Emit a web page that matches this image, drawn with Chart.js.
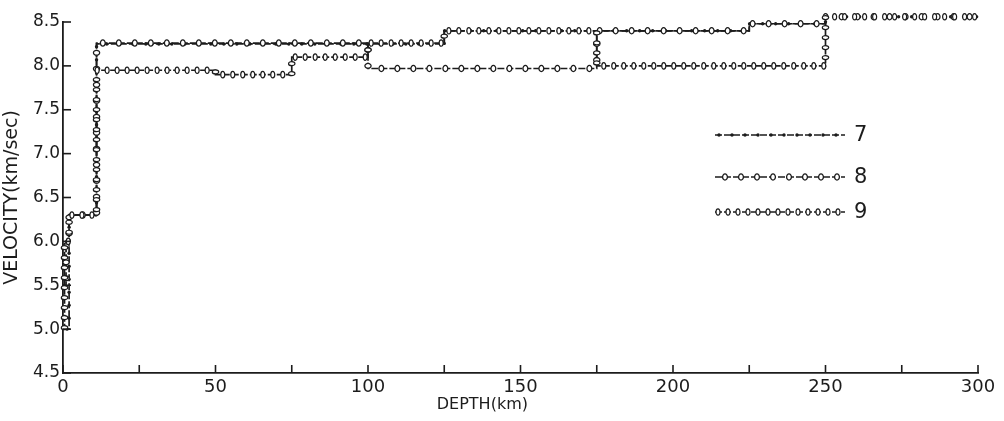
<!DOCTYPE html>
<html>
<head>
<meta charset="utf-8">
<script src="https://cdn.jsdelivr.net/npm/chart.js@4.4.0/dist/chart.umd.min.js"></script>
<style>
    html, body { margin: 0; padding: 0; background: #fff; }
    #wrap { width: 1004px; height: 421px; }
</style>
</head>
<body>
<div id="wrap"><canvas id="chart"></canvas></div>
<script>
// velocity models (depth km, velocity km/sec)
const seriesNames = ["7", "8", "9"];

const depth7 = [0, 2, 2, 11, 11, 125, 125, 225, 225, 250, 250, 300];
const vel7 = [5.0, 5.0, 6.3, 6.3, 8.25, 8.25, 8.4, 8.4, 8.48, 8.48, 8.56, 8.56];

const depth8 = [0, 1, 1, 2, 2, 11, 11, 100, 100, 175, 175, 225, 225, 250, 250, 300];
const vel8 = [5.5, 5.5, 6.0, 6.0, 6.3, 6.3, 8.26, 8.26, 7.97, 7.97, 8.4, 8.4, 8.48, 8.48, 8.56, 8.56];

const depth9 = [0, 0.5, 0.5, 2, 2, 11, 11, 50, 50, 75, 75, 100, 100, 125, 125, 175, 175, 250, 250, 300];
const vel9 = [5.0, 5.0, 6.0, 6.0, 6.3, 6.3, 7.95, 7.95, 7.9, 7.9, 8.1, 8.1, 8.26, 8.26, 8.4, 8.4, 8.0, 8.0, 8.56, 8.56];

const xTicks = [0, 25, 50, 75, 100, 125, 150, 175, 200, 225, 250, 275, 300];
const yTicks = [4.5, 5.0, 5.5, 6.0, 6.5, 7.0, 7.5, 8.0, 8.5];

const ink = "#1c1c1c";
const fontFamily = "'DejaVu Sans', 'Liberation Sans', sans-serif";

function toPoints(xs, ys) {
    return xs.map((x, i) => ({ x: x, y: ys[i] }));
}

// bead shapes that sit along each line
function dotBead(ctx, x, y) {
    ctx.beginPath();
    ctx.arc(x, y, 1.7, 0, Math.PI * 2);
    ctx.fillStyle = ink;
    ctx.fill();
}

function ringBead(ctx, x, y, ang) {
    ctx.save();
    ctx.translate(x, y);
    ctx.rotate(ang);
    ctx.beginPath();
    ctx.ellipse(0, 0, 2.4, 3.1, 0, 0, Math.PI * 2);
    ctx.fillStyle = "#fff";
    ctx.fill();
    ctx.lineWidth = 1.3;
    ctx.strokeStyle = ink;
    ctx.stroke();
    ctx.restore();
}

function denseBead(ctx, x, y, ang) {
    ctx.save();
    ctx.translate(x, y);
    ctx.rotate(ang);
    ctx.beginPath();
    ctx.ellipse(0, 0, 2.0, 3.2, 0, 0, Math.PI * 2);
    ctx.fillStyle = "#fff";
    ctx.fill();
    ctx.lineWidth = 1.2;
    ctx.strokeStyle = ink;
    ctx.stroke();
    ctx.restore();
}

const beadStyles = [
    { draw: dotBead, spacing: 13, phase: 4 },
    { draw: ringBead, spacing: 16, phase: 10 },
    { draw: denseBead, spacing: 10, phase: 3 },
];

function drawBeads(ctx, pts, style) {
    let carry = style.phase;
    for (let i = 0; i < pts.length - 1; i++) {
        const a = pts[i];
        const b = pts[i + 1];
        const dx = b.x - a.x;
        const dy = b.y - a.y;
        const len = Math.hypot(dx, dy);
        if (len < 0.01) continue;
        const ang = Math.atan2(dy, dx);
        let d = carry;
        while (d <= len) {
            style.draw(ctx, a.x + (dx * d) / len, a.y + (dy * d) / len, ang);
            d += style.spacing;
        }
        carry = d - len;
    }
}

function strokePath(ctx, pts) {
    ctx.save();
    ctx.beginPath();
    pts.forEach((p, i) => (i === 0 ? ctx.moveTo(p.x, p.y) : ctx.lineTo(p.x, p.y)));
    ctx.lineWidth = 1.7;
    ctx.strokeStyle = ink;
    ctx.setLineDash([7, 2]);
    ctx.stroke();
    ctx.restore();
}

const inkPlugin = {
    id: "ink",
    afterDatasetsDraw(chart) {
        const ctx = chart.ctx;
        const area = chart.chartArea;
        const xs = chart.scales.x;
        const ys = chart.scales.y;

        // beads along the plotted lines
        chart.data.datasets.forEach((ds, i) => {
            const meta = chart.getDatasetMeta(i);
            const pts = meta.data.map((el) => ({ x: el.x, y: el.y }));
            drawBeads(ctx, pts, beadStyles[i]);
        });

        // inward tick marks
        ctx.save();
        ctx.strokeStyle = ink;
        ctx.lineWidth = 1.6;
        xTicks.forEach((v) => {
            const px = xs.getPixelForValue(v);
            ctx.beginPath();
            ctx.moveTo(px, area.bottom);
            ctx.lineTo(px, area.bottom - 8);
            ctx.stroke();
        });
        yTicks.forEach((v) => {
            const py = ys.getPixelForValue(v);
            ctx.beginPath();
            ctx.moveTo(area.left, py);
            ctx.lineTo(area.left + 8, py);
            ctx.stroke();
        });
        ctx.restore();

        // legend inside the plot
        const lx0 = area.right - 263;
        const lx1 = area.right - 133;
        const rows = [area.top + 113, area.top + 155, area.top + 190];
        seriesNames.forEach((name, i) => {
            const pts = [{ x: lx0, y: rows[i] }, { x: lx1, y: rows[i] }];
            strokePath(ctx, pts);
            drawBeads(ctx, pts, beadStyles[i]);
            ctx.save();
            ctx.fillStyle = ink;
            ctx.font = "21px " + fontFamily;
            ctx.textBaseline = "middle";
            ctx.textAlign = "left";
            ctx.fillText(name, lx1 + 9, rows[i] + 1);
            ctx.restore();
        });

        // x axis title
        ctx.save();
        ctx.fillStyle = ink;
        ctx.font = "16px " + fontFamily;
        ctx.textAlign = "center";
        ctx.textBaseline = "middle";
        ctx.fillText("DEPTH(km)", xs.getPixelForValue(137.5), area.bottom + 32);
        ctx.restore();
    },
};

const datasets = [
    { label: seriesNames[0], data: toPoints(depth7, vel7) },
    { label: seriesNames[1], data: toPoints(depth8, vel8) },
    { label: seriesNames[2], data: toPoints(depth9, vel9) },
].map((ds) => ({
    ...ds,
    showLine: true,
    borderColor: ink,
    borderWidth: 1.7,
    borderDash: [7, 2],
    pointRadius: 0,
    fill: false,
    tension: 0,
}));

new Chart(document.querySelector("#chart"), {
    type: "scatter",
    data: { datasets: datasets },
    options: {
        responsive: true,
        maintainAspectRatio: false,
        animation: false,
        layout: { padding: { top: 22, right: 26, left: 0, bottom: 0 } },
        plugins: {
            legend: { display: false },
            tooltip: { enabled: false },
        },
        scales: {
            x: {
                type: "linear",
                min: 0,
                max: 300,
                afterBuildTicks: (scale) => {
                    scale.ticks = xTicks.map((v) => ({ value: v }));
                },
                afterFit: (scale) => {
                    scale.height = 48;
                },
                grid: { display: false, drawTicks: false },
                border: { display: true, color: ink, width: 1.8 },
                ticks: {
                    autoSkip: false,
                    maxRotation: 0,
                    padding: 4,
                    color: ink,
                    font: { family: fontFamily, size: 18 },
                    callback: (v) => (v % 50 === 0 ? String(v) : ""),
                },
            },
            y: {
                type: "linear",
                min: 4.5,
                max: 8.5,
                afterBuildTicks: (scale) => {
                    scale.ticks = yTicks.map((v) => ({ value: v }));
                },
                afterFit: (scale) => {
                    scale.width = 63;
                },
                grid: { display: false, drawTicks: false },
                border: { display: true, color: ink, width: 1.8 },
                ticks: {
                    padding: 3,
                    color: ink,
                    font: { family: fontFamily, size: 17 },
                    callback: (v) => Number(v).toFixed(1),
                },
                title: {
                    display: true,
                    text: "VELOCITY(km/sec)",
                    color: ink,
                    font: { family: fontFamily, size: 19 },
                    padding: { top: 1, bottom: 0 },
                },
            },
        },
    },
    plugins: [inkPlugin],
});
</script>
</body>
</html>
